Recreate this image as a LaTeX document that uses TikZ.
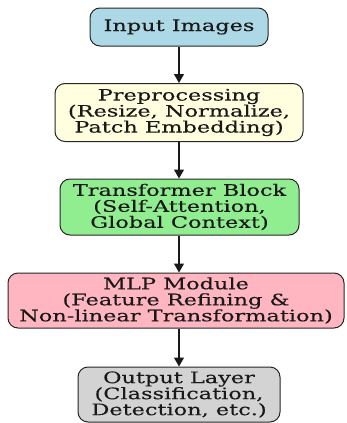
\documentclass[tikz,border=0pt]{standalone}
\usepackage{fontspec}
\setmainfont[FakeStretch=1.42,FakeBold=0.2]{DejaVu Serif}
\usetikzlibrary{arrows.meta}
\definecolor{cin}{HTML}{ADD8E6}
\definecolor{cpre}{HTML}{FFFFE0}
\definecolor{ctr}{HTML}{90EE90}
\definecolor{cmlp}{HTML}{FFB6C1}
\definecolor{cout}{HTML}{D3D3D3}
\begin{document}
\begin{tikzpicture}[x=1pt,y=-1pt,
  box/.style={draw=black!85, line width=1pt, rounded corners=10pt, align=center,
    inner sep=0pt, font=\fontsize{15.8}{16}\selectfont, text=black!90},
  conn/.style={draw=black!90, line width=1.2pt, -{Triangle[width=10pt,length=9pt]}}]
\useasboundingbox (0,0) rectangle (347,423);
\node[box, fill=cin, minimum width=178pt, minimum height=38pt] (in) at (179,27) {Input Images};
\node[box, fill=cpre, minimum width=248pt, minimum height=58pt] (pre) at (179,112.5) {Preprocessing\\(Resize, Normalize,\\Patch Embedding)};
\node[box, fill=ctr, minimum width=239pt, minimum height=56pt] (tr) at (179.5,207) {Transformer Block\\(Self-Attention,\\Global Context)};
\node[box, fill=cmlp, minimum width=336pt, minimum height=55pt] (mlp) at (176,300.5) {MLP Module\\(Feature Refining \&\\Non-linear Transformation)};
\node[box, fill=cout, minimum width=202pt, minimum height=55pt] (out) at (179,394.5) {Output Layer\\(Classification,\\Detection, etc.)};
\draw[conn] (in.south -| 179,0) -- (pre.north -| 179,0);
\draw[conn] (pre.south -| 179,0) -- (tr.north -| 179,0);
\draw[conn] (tr.south -| 179,0) -- (mlp.north -| 179,0);
\draw[conn] (mlp.south -| 179,0) -- (out.north -| 179,0);
\end{tikzpicture}
\end{document}
